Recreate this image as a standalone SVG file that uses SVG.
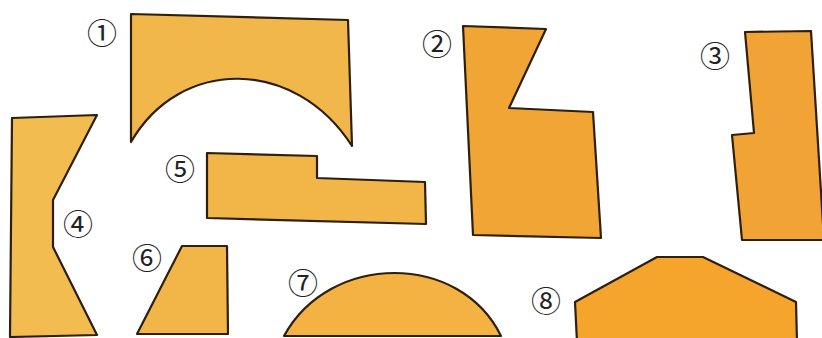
<svg xmlns="http://www.w3.org/2000/svg" width="822" height="338" viewBox="0 0 822 338">
<style>
.s{stroke:#2e1f0d;stroke-width:2.2;stroke-linejoin:round}
.lbl{font-family:"Noto Sans CJK JP","DejaVu Sans",sans-serif;font-size:30px;font-weight:400;fill:#222222;text-anchor:middle;dominant-baseline:central}
</style>
<rect width="822" height="338" fill="#ffffff"/>
<g id="shape1">
<path class="s" fill="#f2b74b" d="M131,14 L348,20 L352,146 C295,57 180,57 131,142 Z"/>
<text class="lbl" x="102" y="31">①</text>
</g>
<g id="shape2">
<path class="s" fill="#f1a535" d="M463,26 L546,29 L509,108 L593,112 L601,238 L473,235 Z"/>
<text class="lbl" x="437" y="42">②</text>
</g>
<g id="shape3">
<path class="s" fill="#f2a336" d="M745,32 L811,31 L824,240 L742,240 L732,135 L754,133 Z"/>
<text class="lbl" x="715" y="54">③</text>
</g>
<g id="shape4">
<path class="s" fill="#f3bc50" d="M12,118 L97,115 L53,200 L53,247 L97,335 L10,337 Z"/>
<text class="lbl" x="78" y="222">④</text>
</g>
<g id="shape5">
<path class="s" fill="#f2b548" d="M207,153 L317,156 L317,178 L425,182 L426,224 L207,218 Z"/>
<text class="lbl" x="180" y="167">⑤</text>
</g>
<g id="shape6">
<path class="s" fill="#f2b548" d="M182,246 L227,246 L228,334 L137,334 Z"/>
<text class="lbl" x="147" y="256">⑥</text>
</g>
<g id="shape7">
<path class="s" fill="#f4b243" d="M284,336 C330,252 460,252 501,336 Z"/>
<text class="lbl" x="303" y="281">⑦</text>
</g>
<g id="shape8">
<path class="s" fill="#f5a42c" d="M577,342 L575,302 L657,257 L703,257 L796,302 L797,342 Z"/>
<text class="lbl" x="546" y="299">⑧</text>
</g>
</svg>
